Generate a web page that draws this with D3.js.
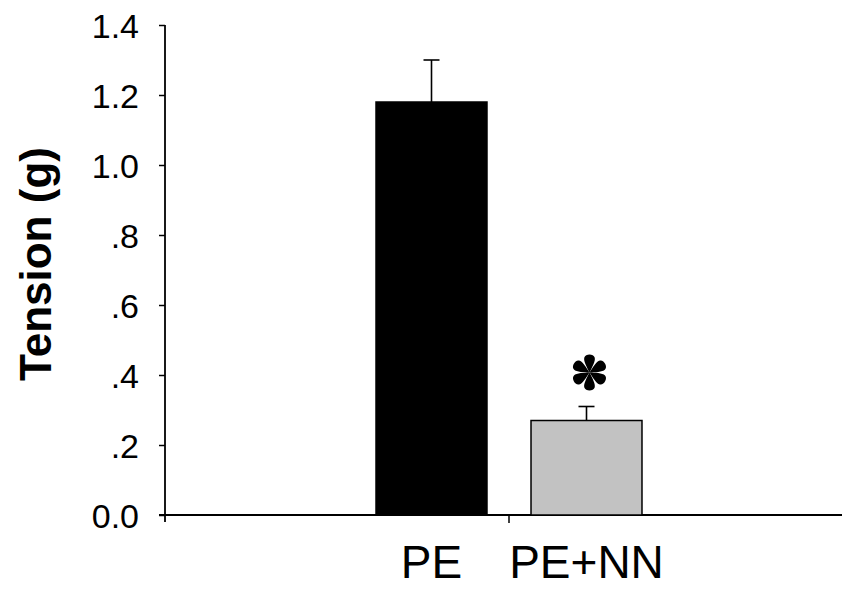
<!DOCTYPE html>
<html>
<head>
<meta charset="utf-8">
<script src="https://cdn.jsdelivr.net/npm/d3@7"></script>
<style>
  body { margin: 0; background: #fff; }
  svg { display: block; }
  text { font-family: "Liberation Sans", Arial, sans-serif; fill: #000; }
</style>
</head>
<body>
<div id="chart"></div>
<script>
// values
let categories = ["PE", "PE+NN"];
let tension = [1.18, 0.27];
let tensionErr = [0.12, 0.04];
let significant = [false, true];
let yTicks = [0, 0.2, 0.4, 0.6, 0.8, 1.0, 1.2, 1.4];
let yTickLabels = ["0.0", ".2", ".4", ".6", ".8", "1.0", "1.2", "1.4"];
let barFill = ["#000000", "#c2c2c2"];

let svg = d3.select("#chart").append("svg")
    .attr("width", 842)
    .attr("height", 589);

let yScale = d3.scaleLinear().domain([0, 1.4]).range([515, 25]);
let xScale = d3.scaleBand().domain(categories)
    .range([354, 664])
    .paddingInner(0.284)
    .paddingOuter(0.142);

let axisLeftX = 165;

// y axis
let yAxis = svg.append("g")
    .attr("transform", "translate(" + axisLeftX + ",0)")
    .call(d3.axisLeft(yScale)
        .tickValues(yTicks)
        .tickFormat(function (d, i) { return yTickLabels[i]; })
        .tickSize(6)
        .tickPadding(20)
        .tickSizeOuter(0));
yAxis.select(".domain").remove();
yAxis.selectAll(".tick line").attr("stroke", "#000").attr("stroke-width", 1.5);
yAxis.selectAll(".tick text")
    .style("font-size", "34px")
    .attr("dy", "0.38em");

// axis lines (y axis runs a little below the x axis)
svg.append("line")
    .attr("x1", axisLeftX).attr("x2", axisLeftX)
    .attr("y1", yScale(1.4)).attr("y2", yScale(0) + 7)
    .attr("stroke", "#000").attr("stroke-width", 1.8);
svg.append("line")
    .attr("x1", axisLeftX - 6).attr("x2", 842)
    .attr("y1", yScale(0)).attr("y2", yScale(0))
    .attr("stroke", "#000").attr("stroke-width", 1.8);

// single centre tick on the x axis
let xMid = (xScale.range()[0] + xScale.range()[1]) / 2;
svg.append("line")
    .attr("x1", xMid).attr("x2", xMid)
    .attr("y1", yScale(0)).attr("y2", yScale(0) + 8)
    .attr("stroke", "#000").attr("stroke-width", 1.5);

// bars
let rows = categories.map(function (c, i) {
    return {cat: c, v: tension[i], err: tensionErr[i], sig: significant[i], fill: barFill[i]};
});

svg.selectAll(".bar")
    .data(rows)
    .enter().append("rect")
    .attr("class", "bar")
    .attr("x", function (d) { return xScale(d.cat); })
    .attr("width", xScale.bandwidth())
    .attr("y", function (d) { return yScale(d.v); })
    .attr("height", function (d) { return yScale(0) - yScale(d.v); })
    .attr("fill", function (d) { return d.fill; })
    .attr("stroke", "#000")
    .attr("stroke-width", 1.5);

// error bars (upper only)
let eb = svg.selectAll(".err")
    .data(rows)
    .enter().append("g")
    .attr("class", "err")
    .attr("stroke", "#000")
    .attr("stroke-width", 1.6);
eb.append("line")
    .attr("x1", function (d) { return xScale(d.cat) + xScale.bandwidth() / 2; })
    .attr("x2", function (d) { return xScale(d.cat) + xScale.bandwidth() / 2; })
    .attr("y1", function (d) { return yScale(d.v); })
    .attr("y2", function (d) { return yScale(d.v + d.err); });
eb.append("line")
    .attr("x1", function (d) { return xScale(d.cat) + xScale.bandwidth() / 2 - 8; })
    .attr("x2", function (d) { return xScale(d.cat) + xScale.bandwidth() / 2 + 8; })
    .attr("y1", function (d) { return yScale(d.v + d.err); })
    .attr("y2", function (d) { return yScale(d.v + d.err); });

// asterisk over significant bar: six teardrop arms
let star = svg.selectAll(".star")
    .data(rows.filter(function (d) { return d.sig; }))
    .enter().append("g")
    .attr("class", "star")
    .attr("transform", function (d) {
        return "translate(" + (xScale(d.cat) + xScale.bandwidth() / 2 + 3) + "," + (yScale(d.v + d.err) - 34) + ") scale(1.15)";
    });
d3.range(6).forEach(function (k) {
    star.append("path")
        .attr("d", "M0,0 C-2,-4 -5.5,-10 -4.5,-13 C-3.5,-16.5 3.5,-16.5 4.5,-13 C5.5,-10 2,-4 0,0Z")
        .attr("transform", "rotate(" + (k * 60) + ")")
        .attr("fill", "#000");
});

// x labels
svg.selectAll(".xlab")
    .data(categories)
    .enter().append("text")
    .attr("class", "xlab")
    .attr("x", function (d) { return xScale(d) + xScale.bandwidth() / 2; })
    .attr("y", 578)
    .attr("text-anchor", "middle")
    .style("font-size", "46px")
    .text(function (d) { return d; });

// y title
svg.append("text")
    .attr("transform", "translate(51,264) rotate(-90)")
    .attr("text-anchor", "middle")
    .style("font-size", "44px")
    .style("font-weight", "bold")
    .text("Tension (g)");
</script>
</body>
</html>
